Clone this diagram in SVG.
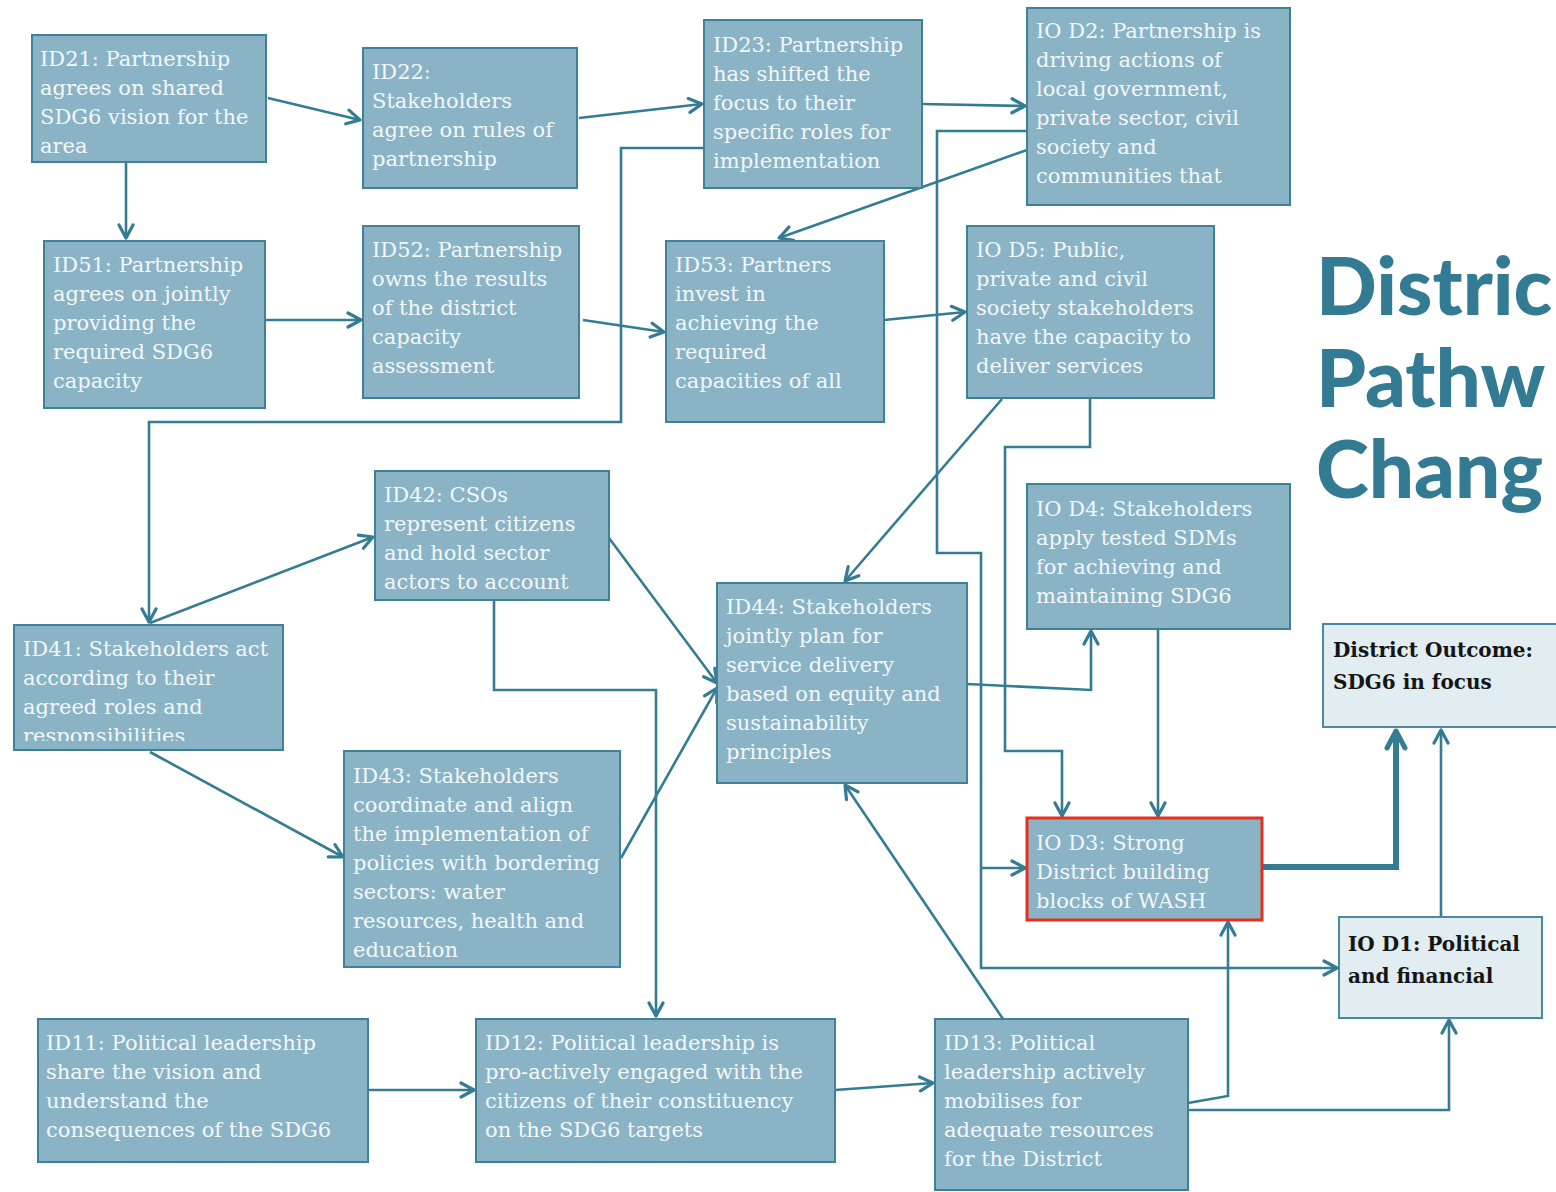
<svg xmlns="http://www.w3.org/2000/svg" width="1556" height="1192" viewBox="0 0 1556 1192">
<defs>
<style>
.n{fill:#8ab4c5;stroke:#3f8298;stroke-width:2}
.t{font-family:"DejaVu Serif","Liberation Serif",serif;font-size:21px;fill:#f2f7f9}
.lt{fill:#e1edf1;stroke:#4a8aa0;stroke-width:2}
.bt{font-family:"DejaVu Serif","Liberation Serif",serif;font-size:20px;font-weight:bold;fill:#151515}
.c{fill:none;stroke:#337c92;stroke-width:2.6;marker-end:url(#ah)}
.ck{fill:none;stroke:#337c92;stroke-width:6;marker-end:url(#ahk)}
.title{font-family:Lato,"Open Sans",sans-serif;font-weight:900;font-size:80px;fill:#327b92}
</style>
<marker id="ah" viewBox="0 0 18 18" refX="16" refY="9" markerWidth="18" markerHeight="18" markerUnits="userSpaceOnUse" orient="auto">
<path d="M3,2 L16,9 L3,16" fill="none" stroke="#337c92" stroke-width="3.2" stroke-linecap="round" stroke-linejoin="round"/>
</marker>
<marker id="ahk" viewBox="0 0 24 24" refX="21" refY="12" markerWidth="24" markerHeight="24" markerUnits="userSpaceOnUse" orient="auto">
<path d="M4,3 L21,12 L4,21" fill="none" stroke="#337c92" stroke-width="5" stroke-linecap="round" stroke-linejoin="round"/>
</marker>
<clipPath id="clip41"><rect x="14" y="625" width="269" height="116"/></clipPath>
</defs>
<rect width="1556" height="1192" fill="#ffffff"/>

<g id="title">
<text class="title" x="1316" y="315">Distric</text>
<text class="title" x="1316" y="407">Pathw</text>
<text class="title" x="1316" y="498">Chang</text>
</g>

<g id="connectors">
<path class="c" d="M268,98 L360,120"/>
<path class="c" d="M126,162 L126,238"/>
<path class="c" d="M579,118 L702,104"/>
<path class="c" d="M922,104 L1025,106"/>
<path class="c" d="M1027,150 L779,238"/>
<path class="c" d="M704,148 L621,148 L621,422 L149,422 L149,622"/>
<path class="c" d="M1027,131 L937,131 L937,553 L981,553 L981,968 L1337,968"/>
<path class="c" d="M981,868 L1025,868"/>
<path class="c" d="M1090,398 L1090,447 L1005,447 L1005,751 L1062,751 L1062,816"/>
<path class="c" d="M1158,629 L1158,816"/>
<path class="c" d="M967,684 L1091,690 L1091,631"/>
<path class="c" d="M1002,399 L845,581"/>
<path class="c" d="M884,320 L965,312"/>
<path class="c" d="M583,320 L664,332"/>
<path class="c" d="M266,320 L361,320"/>
<path class="c" d="M150,623 L373,537"/>
<path class="c" d="M609,538 L717,683"/>
<path class="c" d="M494,600 L494,690 L656,690 L656,1016"/>
<path class="c" d="M150,752 L343,857"/>
<path class="c" d="M621,858 L717,688"/>
<path class="c" d="M1003,1019 L845,785"/>
<path class="c" d="M368,1090 L474,1090"/>
<path class="c" d="M835,1090 L933,1083"/>
<path class="c" d="M1188,1103 L1228,1096 L1228,922"/>
<path class="c" d="M1188,1110 L1449,1110 L1449,1020"/>
<path class="ck" d="M1262,867 L1396,867 L1396,731"/>
<path class="c" d="M1441,917 L1441,730"/>
</g>

<g id="ID21"><rect class="n" x="32" y="35" width="234" height="127"/>
<text class="t"><tspan x="40" y="66">ID21: Partnership</tspan><tspan x="40" y="95">agrees on shared</tspan><tspan x="40" y="124">SDG6 vision for the</tspan><tspan x="40" y="153">area</tspan></text></g>

<g id="ID22"><rect class="n" x="363" y="48" width="214" height="140"/>
<text class="t"><tspan x="372" y="79">ID22:</tspan><tspan x="372" y="108">Stakeholders</tspan><tspan x="372" y="137">agree on rules of</tspan><tspan x="372" y="166">partnership</tspan></text></g>

<g id="ID23"><rect class="n" x="704" y="20" width="218" height="168"/>
<text class="t"><tspan x="713" y="52">ID23: Partnership</tspan><tspan x="713" y="81">has shifted the</tspan><tspan x="713" y="110">focus to their</tspan><tspan x="713" y="139">specific roles for</tspan><tspan x="713" y="168">implementation</tspan></text></g>

<g id="IOD2"><rect class="n" x="1027" y="8" width="263" height="197"/>
<text class="t"><tspan x="1036" y="38">IO D2: Partnership is</tspan><tspan x="1036" y="67">driving actions of</tspan><tspan x="1036" y="96">local government,</tspan><tspan x="1036" y="125">private sector, civil</tspan><tspan x="1036" y="154">society and</tspan><tspan x="1036" y="183">communities that</tspan></text></g>

<g id="ID51"><rect class="n" x="44" y="241" width="221" height="167"/>
<text class="t"><tspan x="53" y="272">ID51: Partnership</tspan><tspan x="53" y="301">agrees on jointly</tspan><tspan x="53" y="330">providing the</tspan><tspan x="53" y="359">required SDG6</tspan><tspan x="53" y="388">capacity</tspan></text></g>

<g id="ID52"><rect class="n" x="363" y="226" width="216" height="172"/>
<text class="t"><tspan x="372" y="257">ID52: Partnership</tspan><tspan x="372" y="286">owns the results</tspan><tspan x="372" y="315">of the district</tspan><tspan x="372" y="344">capacity</tspan><tspan x="372" y="373">assessment</tspan></text></g>

<g id="ID53"><rect class="n" x="666" y="241" width="218" height="181"/>
<text class="t"><tspan x="675" y="272">ID53: Partners</tspan><tspan x="675" y="301">invest in</tspan><tspan x="675" y="330">achieving the</tspan><tspan x="675" y="359">required</tspan><tspan x="675" y="388">capacities of all</tspan></text></g>

<g id="IOD5"><rect class="n" x="967" y="226" width="247" height="172"/>
<text class="t"><tspan x="976" y="257">IO D5: Public,</tspan><tspan x="976" y="286">private and civil</tspan><tspan x="976" y="315">society stakeholders</tspan><tspan x="976" y="344">have the capacity to</tspan><tspan x="976" y="373">deliver services</tspan></text></g>

<g id="ID42"><rect class="n" x="375" y="471" width="234" height="129"/>
<text class="t"><tspan x="384" y="502">ID42: CSOs</tspan><tspan x="384" y="531">represent citizens</tspan><tspan x="384" y="560">and hold sector</tspan><tspan x="384" y="589">actors to account</tspan></text></g>

<g id="ID41"><rect class="n" x="14" y="625" width="269" height="125"/>
<text class="t" clip-path="url(#clip41)"><tspan x="23" y="656">ID41: Stakeholders act</tspan><tspan x="23" y="685">according to their</tspan><tspan x="23" y="714">agreed roles and</tspan><tspan x="23" y="743">responsibilities</tspan></text></g>

<g id="ID44"><rect class="n" x="717" y="583" width="250" height="200"/>
<text class="t"><tspan x="726" y="614">ID44: Stakeholders</tspan><tspan x="726" y="643">jointly plan for</tspan><tspan x="726" y="672">service delivery</tspan><tspan x="726" y="701">based on equity and</tspan><tspan x="726" y="730">sustainability</tspan><tspan x="726" y="759">principles</tspan></text></g>

<g id="IOD4"><rect class="n" x="1027" y="484" width="263" height="145"/>
<text class="t"><tspan x="1036" y="516">IO D4: Stakeholders</tspan><tspan x="1036" y="545">apply tested SDMs</tspan><tspan x="1036" y="574">for achieving and</tspan><tspan x="1036" y="603">maintaining SDG6</tspan></text></g>

<g id="ID43"><rect class="n" x="344" y="751" width="276" height="216"/>
<text class="t"><tspan x="353" y="783">ID43: Stakeholders</tspan><tspan x="353" y="812">coordinate and align</tspan><tspan x="353" y="841">the implementation of</tspan><tspan x="353" y="870">policies with bordering</tspan><tspan x="353" y="899">sectors: water</tspan><tspan x="353" y="928">resources, health and</tspan><tspan x="353" y="957">education</tspan></text></g>

<g id="IOD3"><rect class="n" x="1027" y="818" width="235" height="102" style="stroke:#e5301f;stroke-width:3"/>
<text class="t"><tspan x="1036" y="850">IO D3: Strong</tspan><tspan x="1036" y="879">District building</tspan><tspan x="1036" y="908">blocks of WASH</tspan></text></g>

<g id="outcome"><rect class="lt" x="1323" y="624" width="245" height="103"/>
<text class="bt"><tspan x="1333" y="657">District Outcome:</tspan><tspan x="1333" y="689">SDG6 in focus</tspan></text></g>

<g id="IOD1"><rect class="lt" x="1339" y="917" width="203" height="101"/>
<text class="bt"><tspan x="1348" y="951">IO D1: Political</tspan><tspan x="1348" y="983">and financial</tspan></text></g>

<g id="ID11"><rect class="n" x="38" y="1019" width="330" height="143"/>
<text class="t"><tspan x="46" y="1050">ID11: Political leadership</tspan><tspan x="46" y="1079">share the vision and</tspan><tspan x="46" y="1108">understand the</tspan><tspan x="46" y="1137">consequences of the SDG6</tspan></text></g>

<g id="ID12"><rect class="n" x="476" y="1019" width="359" height="143"/>
<text class="t"><tspan x="485" y="1050">ID12: Political leadership is</tspan><tspan x="485" y="1079">pro-actively engaged with the</tspan><tspan x="485" y="1108">citizens of their constituency</tspan><tspan x="485" y="1137">on the SDG6 targets</tspan></text></g>

<g id="ID13"><rect class="n" x="935" y="1019" width="253" height="171"/>
<text class="t"><tspan x="944" y="1050">ID13: Political</tspan><tspan x="944" y="1079">leadership actively</tspan><tspan x="944" y="1108">mobilises  for</tspan><tspan x="944" y="1137">adequate resources</tspan><tspan x="944" y="1166">for the District</tspan></text></g>
</svg>
